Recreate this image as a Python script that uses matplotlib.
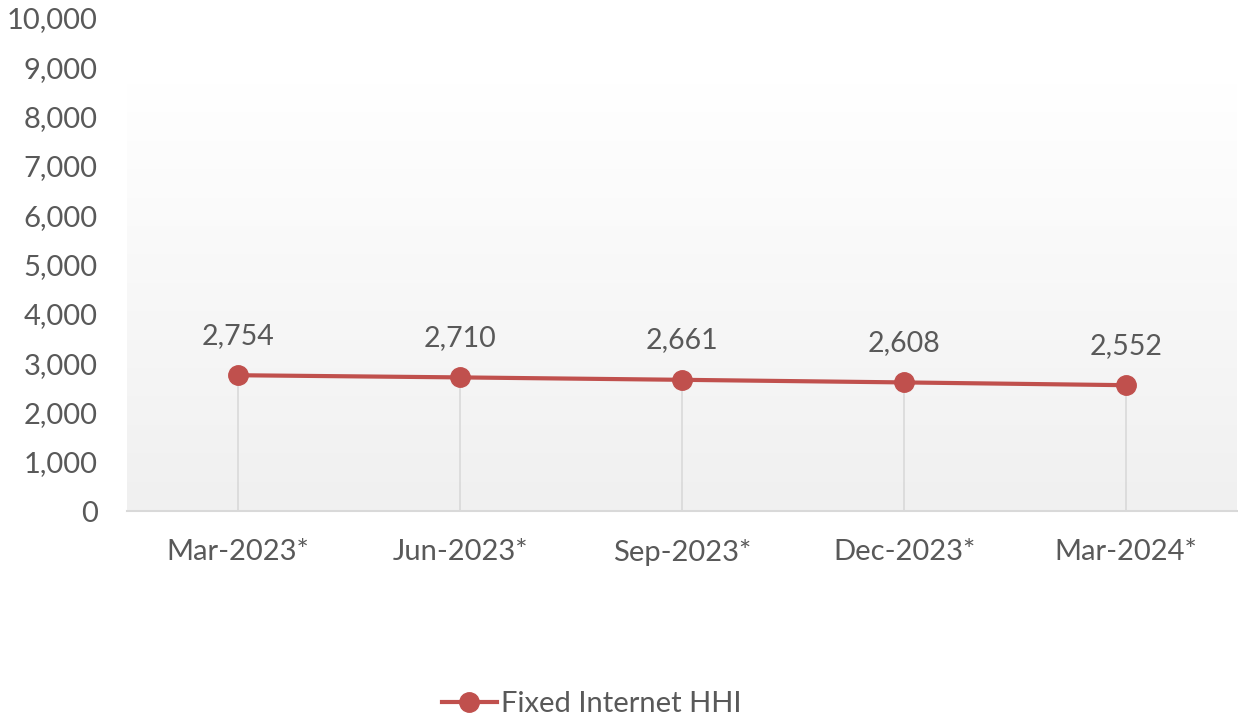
import numpy as np
import matplotlib.pyplot as plt
from matplotlib.colors import LinearSegmentedColormap

# data
quarters = ["Mar-2023*", "Jun-2023*", "Sep-2023*", "Dec-2023*", "Mar-2024*"]
hhi = [2754, 2710, 2661, 2608, 2552]
series_name = "Fixed Internet HHI"

LINE_C = "#C0504D"
TEXT_C = "#595959"

plt.rcParams['font.family'] = ['Lato', 'DejaVu Sans']

fig = plt.figure(figsize=(12.38, 7.17), dpi=100)
ax = fig.add_axes([127 / 1238, 206 / 717, 1110 / 1238, 493 / 717])

x = np.arange(len(quarters))
ax.set_xlim(-0.5, len(quarters) - 0.5)
ax.set_ylim(0, 10000)

# gradient fill of the plot area (white on top -> light grey at bottom)
grad = np.linspace(0, 1, 256).reshape(-1, 1)
cmap = LinearSegmentedColormap.from_list("bg", ["#f0f0f0", "#ffffff"])
ax.imshow(grad, cmap=cmap, origin="lower", aspect="auto",
          extent=(-0.5, len(quarters) - 0.5, 0, 8680), zorder=0)

# drop lines
ax.vlines(x, 0, hhi, color="#d9d9d9", lw=1.2, zorder=1)

ax.plot(x, hhi, color=LINE_C, lw=3, marker="o", ms=14, zorder=3,
        label=series_name)

for xi, v in zip(x, hhi):
    ax.annotate(f"{v:,}", (xi, v), xytext=(0, 19), textcoords="offset points",
                ha="center", va="bottom", fontsize=20.5, color=TEXT_C)

ax.set_yticks(np.arange(0, 10001, 1000))
ax.set_yticklabels([f"{v:,}" for v in range(0, 10001, 1000)])
ax.set_xticks(x)
ax.set_xticklabels(quarters)
ax.tick_params(axis="both", length=0, labelsize=21, labelcolor=TEXT_C)
ax.tick_params(axis="y", pad=21)
ax.tick_params(axis="x", pad=20)

for s in ["top", "right", "left"]:
    ax.spines[s].set_visible(False)
ax.spines["bottom"].set_color("#d9d9d9")
ax.spines["bottom"].set_linewidth(1.5)
ax.spines["bottom"].set_zorder(2)

ax.legend(loc="center", bbox_to_anchor=(0.478, 13 / 717),
          bbox_transform=fig.transFigure, frameon=False,
          fontsize=21, labelcolor=TEXT_C, handlelength=1.9,
          handletextpad=0.15)

fig.savefig("out.png", dpi=100)
